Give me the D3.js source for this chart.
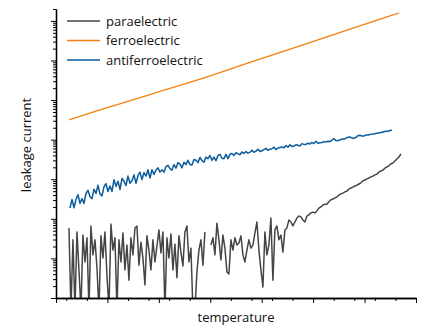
<!DOCTYPE html>
<html>
<head>
<meta charset="utf-8">
<script src="https://cdn.jsdelivr.net/npm/d3@7"></script>
<style>
  html, body { margin: 0; padding: 0; background: #fff; }
  svg text { font-family: "Open Sans", "DejaVu Sans", sans-serif; fill: #111; }
</style>
</head>
<body>
<svg id="chart" width="425" height="328"></svg>
<script>
// legend order
const seriesNames = ['paraelectric', 'ferroelectric', 'antiferroelectric'];

// temperature axis (K), tick labels are hidden in the original
const tempDomain = [50, 400];
// leakage current (A), log axis
const currentDomain = [1e-12, 2e-5];

// paraelectric: log10(I), sampled every stepK from paraStartK, null = non-positive reading
const stepK = 1.944;
const paraStartK = 62.6;
const paraLogI = [
  -10.23, -12.3, -10.53, -12.3, -10.33, -11.29, -12.3, -10.41, -11.09, -10.48,
  -12.3, -10.18, -10.91, -10.53, -11.24, -12.3, -10.43, -10.99, -10.33, -11.42,
  -12.3, -10.13, -10.79, -10.48, -12.3, -10.53, -11.09, -10.36, -11.29, -10.66,
  -11.55, -10.48, -10.91, -10.23, -10.18, -11.17, -10.59, -10.99, -11.67, -10.43,
  -10.79, -11.29, -10.53, -11.09, -10.69, -10.28, -10.86, -10.33, -12.3, -10.48,
  -10.99, -10.38, -11.29, -10.64, -11.49, -10.43, -10.84, -11.19, -10.33, -10.18,
  -11.09, -10.74, -12.3, -12.3, -11.34, -10.79, -10.53, -11.17, -10.33, null,
  null, -10.66, -10.48, -10.91, -10.11, -10.53, -11.04, -10.41, -10.74, -11.34,
  -11.39, -10.53, -10.79, -10.48, -10.66, -10.61, -10.43, -10.91, -11.09, -10.79,
  -10.53, -10.74, -10.66, -10.36, -10.08, -10.79, -11.29, -11.72, -10.33, -10.91,
  -10.66, -9.98, -11.55, -10.28, -10.18, -10.53, -10.41, -10.84, -10.28, -10.23,
  -10.03, -10.08, -10.18, -10.08, -9.98, -9.93, -9.95, -10.03, -10.08, -9.93,
  -9.90, -9.85, -9.83, -9.85, -9.80, -9.73, -9.70, -9.65, -9.63, -9.63,
  -9.57, -9.52, -9.50, -9.47, -9.45, -9.40, -9.37, -9.35, -9.32, -9.30,
  -9.25, -9.22, -9.20, -9.17, -9.15, -9.12, -9.09, -9.04, -9.02, -8.99,
  -8.97, -8.94, -8.92, -8.89, -8.87, -8.82, -8.79, -8.77, -8.72, -8.69,
  -8.66, -8.61, -8.59, -8.54, -8.49, -8.44, -8.36
];

// ferroelectric: log10(I) at feTempK
const feTempK = [62.6, 92.8, 141.4, 190, 238.6, 287.2, 335.8, 383.5];
const feLogI = [-7.50, -7.25, -6.86, -6.47, -6.05, -5.63, -5.21, -4.80];

// antiferroelectric: log10(I), sampled every stepK from afeStartK
const afeStartK = 63.6;
const afeLogI = [
  -9.73, -9.51, -9.72, -9.51, -9.39, -9.61, -9.49, -9.61, -9.36, -9.28,
  -9.44, -9.49, -9.25, -9.36, -9.15, -9.37, -9.42, -9.19, -9.11, -9.31,
  -9.17, -9.31, -9.01, -9.18, -9.05, -9.26, -8.98, -9.05, -9.16, -8.92,
  -9.10, -9.04, -8.89, -9.10, -8.91, -8.82, -9.01, -8.83, -8.92, -8.76,
  -8.97, -8.76, -8.88, -8.77, -8.71, -8.82, -8.76, -8.82, -8.68, -8.65,
  -8.73, -8.77, -8.63, -8.72, -8.58, -8.62, -8.71, -8.57, -8.63, -8.52,
  -8.63, -8.64, -8.50, -8.52, -8.58, -8.45, -8.53, -8.57, -8.44, -8.48,
  -8.40, -8.52, -8.44, -8.53, -8.40, -8.37, -8.47, -8.48, -8.37, -8.48,
  -8.37, -8.35, -8.40, -8.33, -8.36, -8.38, -8.31, -8.35, -8.30, -8.34,
  -8.32, -8.27, -8.32, -8.29, -8.24, -8.30, -8.28, -8.25, -8.22, -8.27,
  -8.24, -8.23, -8.19, -8.25, -8.21, -8.20, -8.18, -8.21, -8.15, -8.19,
  -8.13, -8.17, -8.16, -8.13, -8.14, -8.16, -8.10, -8.12, -8.12, -8.09,
  -8.11, -8.07, -8.10, -8.04, -8.09, -8.08, -8.07, -8.05, -8.06, -8.04,
  -8.05, -8.01, -7.97, -8.03, -8.02, -8.01, -7.98, -7.99, -7.96, -7.94,
  -7.93, -7.96, -7.97, -7.94, -7.90, -7.89, -7.91, -7.91, -7.88, -7.88,
  -7.87, -7.86, -7.86, -7.84, -7.84, -7.82, -7.82, -7.80, -7.79, -7.79,
  -7.77, -7.76
];

const colors = { paraelectric: '#454545', ferroelectric: '#f5800f', antiferroelectric: '#0b5c9c' };

const toPoints = (startK, values) => values.map((v, i) => ({
  t: startK + i * stepK,
  i: v === null ? null : Math.pow(10, v)
}));

const series = {
  paraelectric: toPoints(paraStartK, paraLogI),
  ferroelectric: feTempK.map((t, k) => ({ t, i: Math.pow(10, feLogI[k]) })),
  antiferroelectric: toPoints(afeStartK, afeLogI)
};

const svg = d3.select('#chart');
const plot = { left: 56, right: 416, top: 9, bottom: 298 };

const x = d3.scaleLinear().domain(tempDomain).range([plot.left, plot.right]);
const y = d3.scaleLog().domain(currentDomain).range([plot.bottom, plot.top]);

svg.append('defs').append('clipPath').attr('id', 'clip-plot')
  .append('rect')
  .attr('x', plot.left).attr('y', plot.top)
  .attr('width', plot.right - plot.left).attr('height', plot.bottom - plot.top);

const makeLine = curve => d3.line()
  .defined(d => d.i !== null)
  .x(d => x(d.t))
  .y(d => y(d.i))
  .curve(curve);

const lines = svg.append('g').attr('clip-path', 'url(#clip-plot)');
['paraelectric', 'antiferroelectric', 'ferroelectric'].forEach(name => {
  const smooth = name === 'ferroelectric';
  lines.append('path')
    .datum(series[name])
    .attr('fill', 'none')
    .attr('stroke', colors[name])
    .attr('stroke-width', smooth ? 1.3 : 1.5)
    .attr('stroke-linejoin', 'round')
    .attr('d', makeLine(smooth ? d3.curveMonotoneX : d3.curveLinear));
});

// axes: major and minor ticks, no labels
const yAll = y.ticks();
const yMajor = yAll.filter(v => Math.abs(Math.log10(v) - Math.round(Math.log10(v))) < 1e-6);
const yMinor = yAll.filter(v => !yMajor.includes(v));
const xMajor = x.ticks(7);
const xMinor = x.ticks(14).filter(v => !xMajor.includes(v));

const styleAxis = g => {
  g.selectAll('.domain').attr('stroke', '#000').attr('stroke-width', 1.3);
  g.selectAll('.tick line').attr('stroke', '#000').attr('stroke-width', 1);
};

svg.append('g')
  .attr('transform', `translate(${plot.left},0)`)
  .call(d3.axisLeft(y).tickValues(yMinor).tickSize(3).tickSizeOuter(0).tickFormat(''))
  .call(styleAxis);
svg.append('g')
  .attr('transform', `translate(${plot.left},0)`)
  .call(d3.axisLeft(y).tickValues(yMajor).tickSize(5).tickSizeOuter(0).tickFormat(''))
  .call(styleAxis);
svg.append('g')
  .attr('transform', `translate(0,${plot.bottom})`)
  .call(d3.axisBottom(x).tickValues(xMinor).tickSize(3).tickSizeOuter(0).tickFormat(''))
  .call(styleAxis);
svg.append('g')
  .attr('transform', `translate(0,${plot.bottom})`)
  .call(d3.axisBottom(x).tickValues(xMajor).tickSize(5).tickSizeOuter(0).tickFormat(''))
  .call(styleAxis);

// axis titles
svg.append('text')
  .attr('text-anchor', 'middle')
  .attr('x', (plot.left + plot.right) / 2)
  .attr('y', 322)
  .attr('font-size', 13)
  .text('temperature');

svg.append('text')
  .attr('text-anchor', 'middle')
  .attr('transform', 'translate(31,145) rotate(-90)')
  .attr('font-size', 13)
  .text('leakage current');

// legend
const legend = svg.append('g').attr('transform', 'translate(67,21)');
seriesNames.forEach((name, k) => {
  const row = legend.append('g').attr('transform', `translate(0,${k * 19.5})`);
  row.append('line')
    .attr('x1', 0).attr('x2', 33)
    .attr('stroke', colors[name])
    .attr('stroke-width', 1.6);
  row.append('text')
    .attr('x', 39)
    .attr('y', 4.5)
    .attr('font-size', 13)
    .text(name);
});
</script>
</body>
</html>
